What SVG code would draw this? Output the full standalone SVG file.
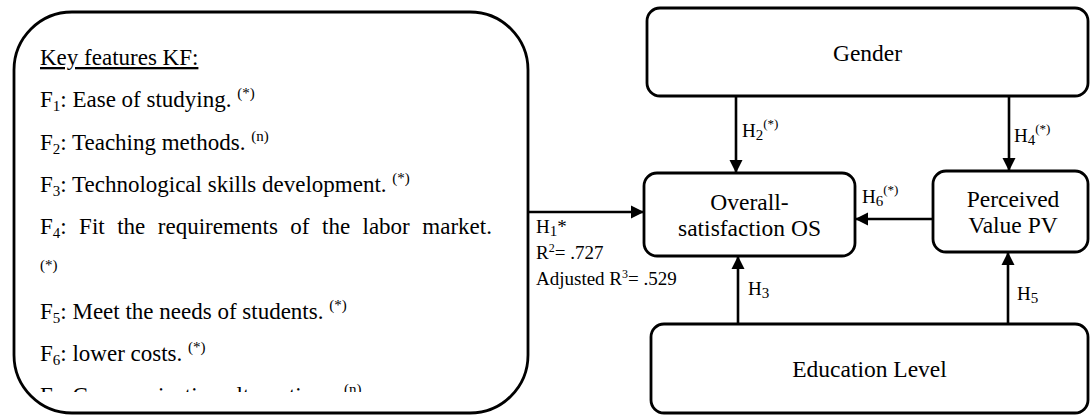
<svg xmlns="http://www.w3.org/2000/svg" width="1091" height="417" viewBox="0 0 1091 417">
<style>
.box{fill:#fff;stroke:#000;stroke-width:2.8}
.edge{stroke:#000;stroke-width:2.6;fill:none}
.t{font-family:"Liberation Serif","Times New Roman",serif;fill:#000}
.node{font-size:23.5px;text-anchor:middle}
.kf{font-size:23px}
.lab{font-size:19px}
.sub{font-size:15px}
.sup{font-size:15px}
</style>
<defs>
<marker id="arr" markerUnits="userSpaceOnUse" markerWidth="14" markerHeight="14" refX="13" refY="7" orient="auto">
<path d="M0,0.5 L13,7 L0,13.5 z" fill="#000"/>
</marker>
<clipPath id="kfclip"><rect x="14" y="12" width="514" height="380"/></clipPath>
</defs>
<g id="kf-box">
<rect class="box" x="14" y="12" width="514" height="401" rx="58" ry="58"/>
<g clip-path="url(#kfclip)">
<text class="t kf" x="40" y="65" text-decoration="underline">Key features KF:</text>
<text class="t kf" x="40" y="107">F<tspan class="sub" dy="4">1</tspan><tspan dy="-4">: Ease of studying. </tspan><tspan class="sup" dy="-9">(*)</tspan></text>
<text class="t kf" x="40" y="150">F<tspan class="sub" dy="4">2</tspan><tspan dy="-4">: Teaching methods. </tspan><tspan class="sup" dy="-9">(n)</tspan></text>
<text class="t kf" x="40" y="192">F<tspan class="sub" dy="4">3</tspan><tspan dy="-4">: Technological skills development. </tspan><tspan class="sup" dy="-9">(*)</tspan></text>
<text class="t kf" x="40" y="234">F<tspan class="sub" dy="4">4</tspan><tspan dy="-4">:</tspan><tspan x="79.1">Fit</tspan><tspan x="117.2">the</tspan><tspan x="157.8">requirements</tspan><tspan x="290.3">of</tspan><tspan x="322">the</tspan><tspan x="362.5">labor</tspan><tspan x="422.3">market.</tspan></text>
<text class="t sup" x="40" y="270">(*)</text>
<text class="t kf" x="40" y="319">F<tspan class="sub" dy="4">5</tspan><tspan dy="-4">: Meet the needs of students. </tspan><tspan class="sup" dy="-9">(*)</tspan></text>
<text class="t kf" x="40" y="361">F<tspan class="sub" dy="4">6</tspan><tspan dy="-4">: lower costs. </tspan><tspan class="sup" dy="-9">(*)</tspan></text>
<text class="t kf" x="40" y="403">F<tspan class="sub" dy="4">7</tspan><tspan dy="-4">: Communication alternatives. </tspan><tspan class="sup" dy="-9">(n)</tspan></text>
</g>
</g>
<g id="gender">
<rect class="box" x="647" y="8" width="441" height="88" rx="13"/>
<text class="t node" x="867.5" y="61">Gender</text>
</g>
<g id="os">
<rect class="box" x="644" y="173" width="211" height="83" rx="13"/>
<text class="t node" x="749.5" y="210">Overall-</text>
<text class="t node" x="749.5" y="236">satisfaction OS</text>
</g>
<g id="pv">
<rect class="box" x="933" y="171" width="155" height="81" rx="13"/>
<text class="t node" x="1013" y="207">Perceived</text>
<text class="t node" x="1013" y="233">Value PV</text>
</g>
<g id="edu">
<rect class="box" x="651" y="324" width="437" height="89" rx="13"/>
<text class="t node" x="869.5" y="377">Education Level</text>
</g>
<g id="connectors">
<line class="edge" x1="528" y1="212" x2="644" y2="212" marker-end="url(#arr)"/>
<line class="edge" x1="736" y1="96" x2="736" y2="173" marker-end="url(#arr)"/>
<line class="edge" x1="1009" y1="96" x2="1009" y2="171" marker-end="url(#arr)"/>
<line class="edge" x1="933" y1="219" x2="855" y2="219" marker-end="url(#arr)"/>
<line class="edge" x1="738" y1="324" x2="738" y2="256" marker-end="url(#arr)"/>
<line class="edge" x1="1008" y1="324" x2="1008" y2="252" marker-end="url(#arr)"/>
<text class="t lab" x="536" y="233">H<tspan class="sub" dy="3">1</tspan><tspan dy="-3">*</tspan></text>
<text class="t lab" x="536" y="259">R<tspan font-size="12" dy="-7">2</tspan><tspan dy="7">= .727</tspan></text>
<text class="t lab" x="536" y="285">Adjusted R<tspan font-size="12" dy="-7">3</tspan><tspan dy="7">= .529</tspan></text>
<text class="t lab" x="742" y="137">H<tspan class="sub" dy="3">2</tspan><tspan font-size="13" dy="-12">(*)</tspan></text>
<text class="t lab" x="1014" y="142">H<tspan class="sub" dy="3">4</tspan><tspan font-size="13" dy="-12">(*)</tspan></text>
<text class="t lab" x="862" y="203">H<tspan class="sub" dy="3">6</tspan><tspan font-size="13" dy="-12">(*)</tspan></text>
<text class="t lab" x="748" y="295">H<tspan class="sub" dy="3">3</tspan></text>
<text class="t lab" x="1017" y="300">H<tspan class="sub" dy="3">5</tspan></text>
</g>
</svg>
